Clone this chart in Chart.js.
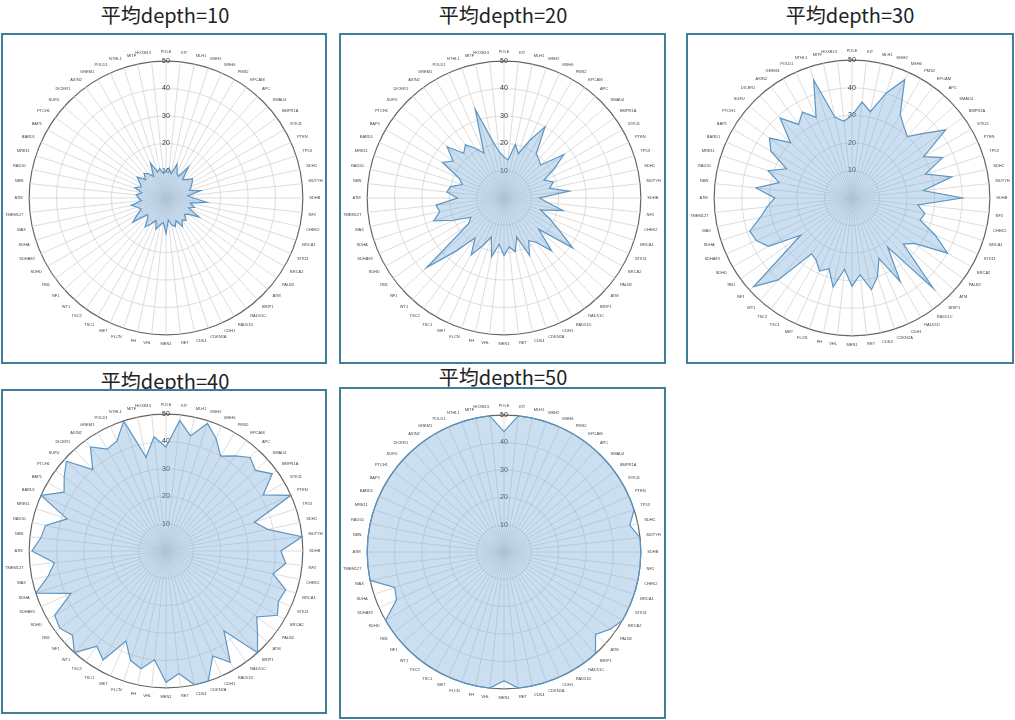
<!DOCTYPE html>
<html>
<head>
<meta charset="utf-8">
<script src="https://cdn.jsdelivr.net/npm/chart.js@4.4.0/dist/chart.umd.min.js"></script>
<style>
  body { margin: 0; background: #fff; width: 1015px; height: 720px; position: relative; overflow: hidden;
         font-family: "Noto Sans CJK JP", "Noto Sans", sans-serif; }
  .panel { position: absolute; border: 2px solid #3f7f9c; box-sizing: border-box; background: #fff; }
  .title { position: absolute; font-size: 20px; font-weight: 400; color: #222; text-align: center; width: 330px; }
  canvas { display: block; }
</style>
</head>
<body>
<div class="title" style="left:0;top:0;">平均depth=10</div>
<div class="title" style="left:338px;top:0;">平均depth=20</div>
<div class="title" style="left:685px;top:0;">平均depth=30</div>
<div class="title" style="left:0;top:366px;">平均depth=40</div>
<div class="title" style="left:338px;top:362px;">平均depth=50</div>

<div class="panel" style="left:1px;top:33px;width:326px;height:331px;"><canvas id="c1"></canvas></div>
<div class="panel" style="left:339px;top:33px;width:327px;height:331px;"><canvas id="c2"></canvas></div>
<div class="panel" style="left:686px;top:33px;width:328px;height:331px;"><canvas id="c3"></canvas></div>
<div class="panel" style="left:1px;top:389px;width:326px;height:325px;"><canvas id="c4"></canvas></div>
<div class="panel" style="left:339px;top:387px;width:327px;height:332px;"><canvas id="c5"></canvas></div>

<script>
const genes = [
  'POLE','KIT','MLH1','MSH2','MSH6','PMS2','EPCAM','APC','SMAD4','BMPR1A',
  'STK11','PTEN','TP53','SDHC','MUTYH','SDHB','NF2','CHEK2','BRCA1','STK11',
  'BRCA2','PALB2','ATM','BRIP1','RAD51C','RAD51D','CDH1','CDKN2A','CDK4','RET',
  'MEN1','VHL','FH','FLCN','MET','TSC1','TSC2','WT1','NF1','RB1',
  'SDHD','SDHAF2','SDHA','MAX','TMEM127','ATM','NBN','RAD50','MRE11','BARD1',
  'BAP1','PTCH1','SUFU','DICER1','AXIN2','GREM1','POLD1','NTHL1','MITF','HOXB13'
];
const depth10 = [10,11,9,13,10,9,14,9,10,12,11,10,9,13,8,10,15,9,11,9,14,10,9,11,10,12,9,11,10,8,13,9,10,12,9,11,13,10,9,15,12,10,11,13,9,10,11,9,12,10,11,13,10,12,11,9,14,10,11,9];
const depth20 = [15,14,20,17,23,30,20,19,18,27,21,16,19,17,24,13,16,22,14,18,23,31,17,26,20,18,23,15,20,18,21,17,22,15,19,24,18,26,38,16,14,20,27,24,25,17,21,20,16,18,26,23,28,22,24,21,18,34,22,17];
const depth30 = [30,35,32,40,47,35,32,30,35,42,30,36,28,37,26,40,24,27,26,33,40,28,25,44,22,35,24,30,34,28,32,26,33,27,29,26,25,40,48,23,35,38,39,34,31,28,35,27,32,26,34,37,30,39,33,36,32,45,30,28];
const depth40 = [38,48,43,49,45,40,43,46,44,48,41,50,34,38,50,42,44,40,46,45,47,41,45,50,36,47,42,50,50,45,48,40,44,42,36,46,43,50,46,48,47,38,50,44,41,49,46,45,38,50,43,46,49,40,47,43,44,50,35,42];
const depth50 = [44,50,50,50,50,50,50,50,50,50,50,50,50,47,50,50,50,50,50,50,50,48,45,50,50,50,50,50,50,50,47,50,50,50,50,50,50,50,50,50,50,43,42,50,50,50,50,50,50,50,50,50,50,50,50,50,50,50,50,50];
const rTicks = [10, 20, 30, 40, 50];

function drawRadar(id, values) {
  new Chart(document.getElementById(id), {
    type: 'radar',
    data: {
      labels: genes,
      datasets: [{
        data: values,
        borderColor: '#5b95c4',
        backgroundColor: 'rgba(120,170,215,0.38)',
        borderWidth: 1.2,
        pointRadius: 0,
        fill: true
      }]
    },
    options: {
      responsive: true,
      maintainAspectRatio: false,
      animation: false,
      layout: { padding: 0 },
      plugins: { legend: { display: false }, tooltip: { enabled: false } },
      scales: {
        r: {
          min: 0, max: 50,
          afterBuildTicks: axis => { axis.ticks = [0, ...rTicks].map(v => ({ value: v })); },
          grid: { circular: true, color: c => c.index === 5 ? '#666' : '#d4d4d4', lineWidth: c => c.index === 5 ? 1.2 : 0.8 },
          angleLines: { color: '#d4d4d4', lineWidth: 0.8 },
          ticks: { showLabelBackdrop: false, color: '#333', font: { size: 7 }, callback: v => v === 0 ? '' : v },
          pointLabels: { color: '#444', font: { size: 4 }, padding: 1 }
        }
      }
    }
  });
}

drawRadar('c1', depth10);
drawRadar('c2', depth20);
drawRadar('c3', depth30);
drawRadar('c4', depth40);
drawRadar('c5', depth50);
</script>
</body>
</html>
